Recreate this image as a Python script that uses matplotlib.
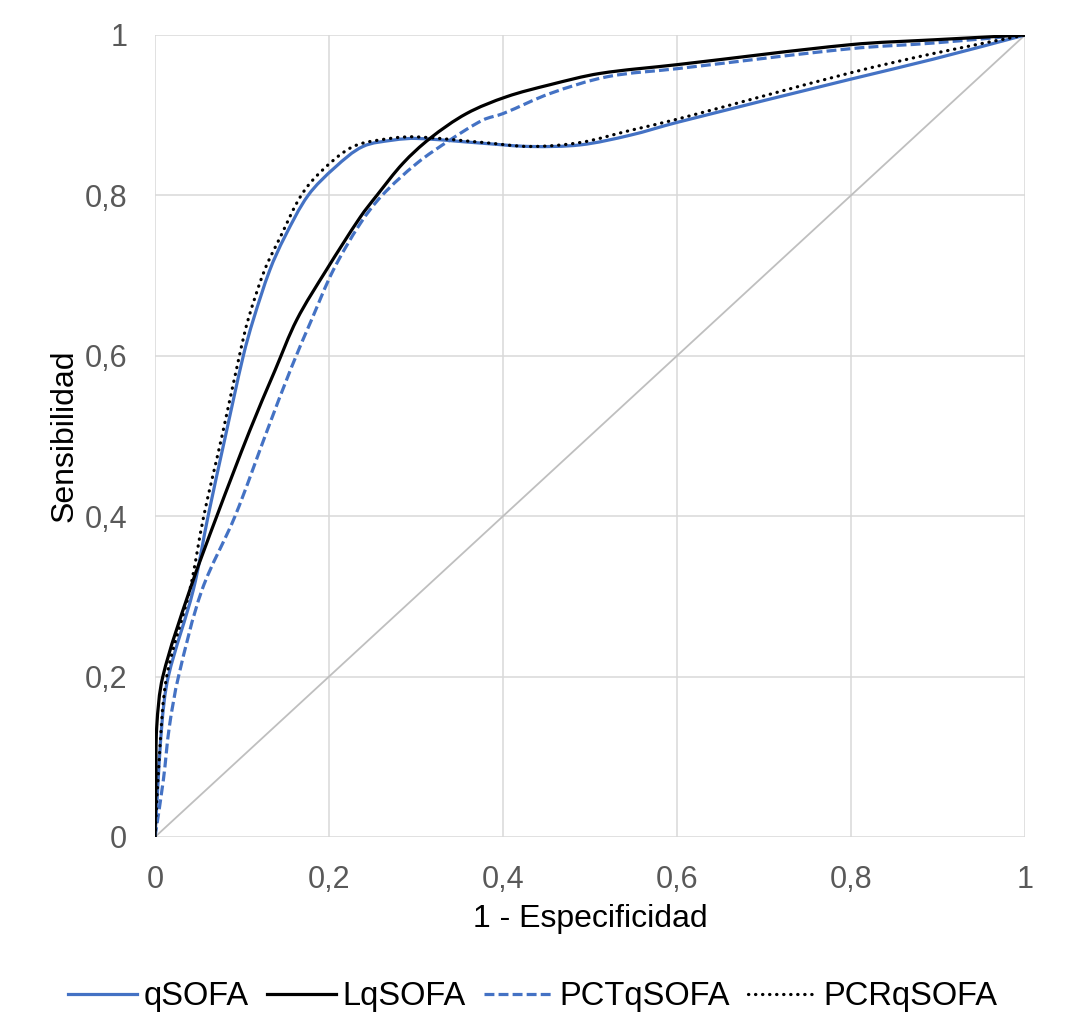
import matplotlib
matplotlib.use("Agg")
import matplotlib.pyplot as plt
import numpy as np
from matplotlib.path import Path
from matplotlib.patches import PathPatch
from matplotlib.lines import Line2D

# ---- data ----
qsofa_x = [0, 0.0077, 0.0153, 0.044, 0.061, 0.081, 0.1015, 0.113, 0.132, 0.149, 0.176, 0.207,
           0.239, 0.274, 0.301, 0.377, 0.431, 0.489, 0.546, 0.6, 0.8, 0.895, 1]
qsofa_y = [0, 0.1375, 0.2, 0.308, 0.4, 0.5, 0.6, 0.645, 0.707, 0.748, 0.8, 0.835,
           0.861, 0.869, 0.871, 0.865, 0.861, 0.863, 0.875, 0.891, 0.945, 0.970, 1]

lqsofa_x = [0, 0.001, 0.002, 0.009, 0.040, 0.071, 0.109, 0.138, 0.163, 0.197, 0.236, 0.255,
            0.285, 0.316, 0.358, 0.404, 0.454, 0.511, 0.6, 0.8, 0.895, 1]
lqsofa_y = [0, 0.071, 0.1375, 0.2, 0.308, 0.4, 0.507, 0.582, 0.645, 0.707, 0.773, 0.8,
            0.84, 0.871, 0.902, 0.923, 0.938, 0.952, 0.963, 0.988, 0.994, 1]

pct_x = [0, 0.0096, 0.0165, 0.027, 0.054, 0.092, 0.129, 0.157, 0.180, 0.205, 0.236, 0.261,
         0.301, 0.339, 0.377, 0.4, 0.454, 0.52, 0.6, 0.8, 0.895, 1]
pct_y = [0, 0.071, 0.1375, 0.2, 0.308, 0.4, 0.507, 0.586, 0.645, 0.707, 0.765, 0.8,
         0.84, 0.869, 0.894, 0.902, 0.927, 0.948, 0.958, 0.983, 0.990, 1]

pcr_x = [0, 0.005, 0.0134, 0.040, 0.056, 0.077, 0.097, 0.107, 0.126, 0.144, 0.168, 0.192,
         0.228, 0.27, 0.30, 0.377, 0.431, 0.489, 0.546, 0.6, 0.8, 0.895, 1]
pcr_y = [0, 0.1, 0.2, 0.308, 0.4, 0.5, 0.6, 0.645, 0.707, 0.748, 0.8, 0.831,
         0.861, 0.871, 0.873, 0.866, 0.861, 0.866, 0.881, 0.895, 0.953, 0.977, 1]

ref_x = [0, 1]
ref_y = [0, 1]

ticks = [0, 0.2, 0.4, 0.6, 0.8, 1]
tick_labels = ["0", "0,2", "0,4", "0,6", "0,8", "1"]
series_names = ["qSOFA", "LqSOFA", "PCTqSOFA", "PCRqSOFA"]

plt.rcParams['font.family'] = ['Liberation Sans', 'DejaVu Sans']
FS = 22
FS_TITLE = 23
FS_LEG = 23.5


def smooth_path(xs, ys):
    """Cubic Bezier path through the given points (smoothed line, like Excel)."""
    p = np.column_stack([xs, ys]).astype(float)
    n = len(p)
    tang = np.zeros_like(p)
    for i in range(n):
        if i == 0:
            d = p[1] - p[0]
        elif i == n - 1:
            d = p[-1] - p[-2]
        else:
            d = p[i + 1] - p[i - 1]
        tang[i] = d / np.hypot(*d)
    verts = [tuple(p[0])]
    codes = [Path.MOVETO]
    for i in range(n - 1):
        L = np.hypot(*(p[i + 1] - p[i]))
        c1 = p[i] + tang[i] * L / 3
        c2 = p[i + 1] - tang[i + 1] * L / 3
        verts += [tuple(c1), tuple(c2), tuple(p[i + 1])]
        codes += [Path.CURVE4] * 3
    return Path(verts, codes)


fig = plt.figure(figsize=(10.66, 10.34), dpi=100)
ax = fig.add_axes([155/1066, 1-837/1034, 870/1066, 802/1034])

blue = "#4472C4"
lw = 2.3
ax.plot(ref_x, ref_y, color="#BFBFBF", lw=1.3, zorder=2)

styles = [
    dict(color=blue, ls='-', cap='butt', z=3),
    dict(color="black", ls='-', cap='butt', z=4),
    dict(color=blue, ls=(0, (3.1, 1.3)), cap='butt', z=3),
    dict(color="black", ls=(0, (0.1, 2.1)), cap='round', z=5),
]
data = [(qsofa_x, qsofa_y), (lqsofa_x, lqsofa_y), (pct_x, pct_y), (pcr_x, pcr_y)]
handles = []
for (xs, ys), st in zip(data, styles):
    patch = PathPatch(smooth_path(xs, ys), facecolor='none', edgecolor=st['color'],
                      lw=lw, linestyle=st['ls'], zorder=st['z'],
                      capstyle=st['cap'], joinstyle='round')
    ax.add_patch(patch)
    handles.append(Line2D([], [], color=st['color'], lw=lw, linestyle=st['ls'],
                          dash_capstyle=st['cap']))

ax.set_xlim(0, 1)
ax.set_ylim(0, 1)
ax.set_xticks(ticks)
ax.set_yticks(ticks)
ax.set_xticklabels(tick_labels)
ax.set_yticklabels(tick_labels)
ax.grid(True, color="#D9D9D9", lw=1.1, zorder=0)
ax.set_axisbelow(True)
for s in ax.spines.values():
    s.set_visible(False)
ax.tick_params(length=0, labelsize=FS, labelcolor="#595959")
ax.tick_params(axis='x', pad=20)
ax.tick_params(axis='y', pad=20)

ax.set_xlabel("1 - Especificidad", fontsize=FS_TITLE, labelpad=7)
ax.set_ylabel("Sensibilidad", fontsize=FS_TITLE, labelpad=4)

fig.legend(handles, series_names, loc='center', ncol=4,
           bbox_to_anchor=(0.5, 1-997/1034), frameon=False, fontsize=FS_LEG,
           handlelength=2.1, handletextpad=0.22, columnspacing=0.55)

fig.savefig("out.png", dpi=100)
